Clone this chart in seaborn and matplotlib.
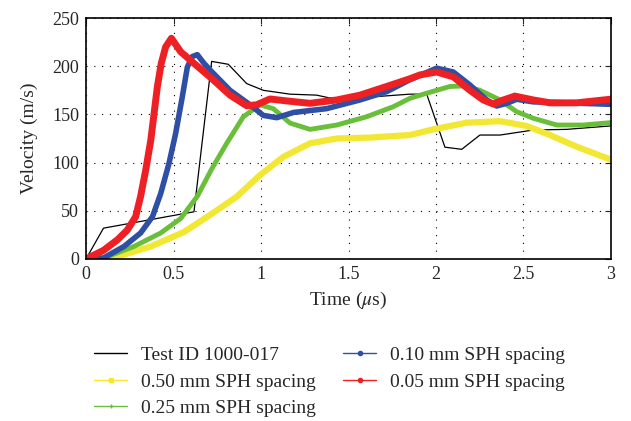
import matplotlib
matplotlib.use('Agg')
import matplotlib.pyplot as plt
from matplotlib.lines import Line2D
import seaborn as sns
import pandas as pd

# Velocity histories (time in us, velocity in m/s)
t_test = [0.0, 0.10, 0.617, 0.718, 0.813, 0.918, 1.013, 1.166, 1.318, 1.394, 1.623, 1.85, 1.947,
          2.051, 2.147, 2.251, 2.366, 2.556, 2.747, 2.994]
v_test = [0, 32, 49, 205, 202, 182, 175, 171, 170, 167, 168, 171, 171,
          116, 113.8, 128.6, 128.6, 133.8, 134.5, 138]

t_050 = [0.0, 0.18, 0.37, 0.56, 0.72, 0.861, 0.994, 1.128, 1.28, 1.433, 1.623, 1.851, 1.985,
         2.175, 2.366, 2.518, 2.651, 2.804, 2.994]
v_050 = [0, 2.4, 13, 28, 47, 64.6, 87, 106, 120, 125, 126, 128.6, 134.5,
         141.4, 143, 138, 128.6, 116.5, 103.4]

t_025 = [0.0, 0.10, 0.274, 0.427, 0.541, 0.636, 0.72, 0.804, 0.899, 0.994, 1.07, 1.166, 1.28,
         1.433, 1.604, 1.756, 1.851, 1.947, 2.08, 2.156, 2.251, 2.366, 2.461, 2.556, 2.69, 2.842, 2.994]
v_025 = [0, 1, 13, 27, 42, 65, 94, 120, 147.6, 160, 156, 141, 134.5,
         139, 147.6, 158, 166.7, 172, 179, 179.5, 175, 165, 152.8, 146, 139, 139, 141.4]

t_010 = [0.0, 0.10, 0.217, 0.312, 0.38, 0.427, 0.474, 0.512, 0.55, 0.579, 0.607, 0.636, 0.674,
         0.72, 0.823, 0.937, 1.013, 1.09, 1.185, 1.375, 1.566, 1.718, 1.851, 2.004, 2.099, 2.194,
         2.29, 2.347, 2.404, 2.461, 2.556, 2.747, 2.994]
v_010 = [0, 1, 13, 27, 44, 68, 99, 130, 168, 199, 210, 212, 203,
         194, 175, 160, 149, 146.6, 152, 156, 165, 173.6, 186, 198, 194, 180.5,
         165, 158.7, 161.5, 165.7, 163, 162, 160.5]

t_005 = [0.0, 0.10, 0.18, 0.236, 0.284, 0.312, 0.341, 0.37, 0.389, 0.408, 0.43, 0.455, 0.488,
         0.541, 0.617, 0.72, 0.823, 0.918, 0.975, 1.051, 1.147, 1.28, 1.433, 1.566, 1.718, 1.851,
         1.909, 2.004, 2.099, 2.194, 2.27, 2.327, 2.385, 2.451, 2.556, 2.651, 2.804, 2.994]
v_005 = [0, 9, 20, 30, 44, 65, 92, 123, 151, 179, 203, 220, 229,
         215, 203, 187, 170, 159, 160, 166, 164, 161.5, 165, 170, 179, 187,
         191, 194, 189, 175, 165, 160.8, 165, 169, 165, 162, 162, 165.7]

labels = ['Test ID 1000-017', '0.50 mm SPH spacing', '0.25 mm SPH spacing',
          '0.10 mm SPH spacing', '0.05 mm SPH spacing']
colors = ['#000000', '#f2e833', '#6abf3a', '#2e4fa3', '#ee2024']
widths = [0.9, 4.5, 3.5, 4.0, 5.0]
markers = [None, 's', '+', 'o', 'o']

sns.set_style('white')
plt.rcParams['font.family'] = ['Liberation Serif', 'DejaVu Serif']
plt.rcParams['mathtext.fontset'] = 'stix'

fig = plt.figure(figsize=(6.31, 4.21), dpi=100)
ax = fig.add_axes([0.1363, 0.3848, 0.832, 0.5724])

series = [(t_test, v_test), (t_050, v_050), (t_025, v_025), (t_010, v_010), (t_005, v_005)]
for i in range(5):
    t, v = series[i]
    df = pd.DataFrame({'t': t, 'v': v})
    sns.lineplot(data=df, x='t', y='v', ax=ax, color=colors[i], linewidth=widths[i],
                 solid_capstyle='round', solid_joinstyle='round', sort=False)

ax.set_xlim(0, 3)
ax.set_ylim(0, 250)
ax.set_xticks([0, 0.5, 1, 1.5, 2, 2.5, 3])
ax.set_xticklabels(['0', '0.5', '1', '1.5', '2', '2.5', '3'])
ax.set_yticks([0, 50, 100, 150, 200, 250])
ax.grid(True, color='black', linestyle=(0, (1, 6)), linewidth=0.8)
ax.tick_params(direction='in', length=4, top=True, right=True, labelsize=13, width=0.8, pad=5)
for s in ax.spines.values():
    s.set_color('black')
    s.set_linewidth(1.2)
ax.set_xlabel(r'Time ($\mu$s)', fontsize=14, labelpad=5)
ax.set_ylabel('Velocity (m/s)', fontsize=14, labelpad=10)

handles = []
for i in range(5):
    handles.append(Line2D([0], [0], color=colors[i], linewidth=1.0, marker=markers[i],
                          markersize=3, markeredgewidth=1))
fig.legend(handles, labels, loc='upper left', bbox_to_anchor=(0.137, 0.195),
           ncol=2, frameon=False, fontsize=14, handlelength=1.7, columnspacing=1.4,
           labelspacing=0.45, handletextpad=0.7, borderaxespad=0)

fig.savefig('out.png', dpi=100)
